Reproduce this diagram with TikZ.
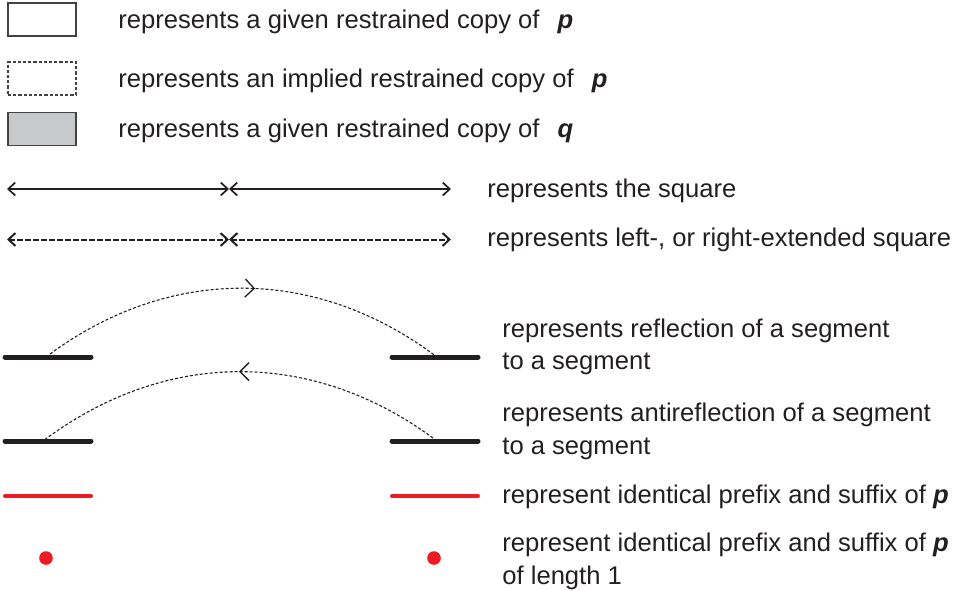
\documentclass[tikz,border=0pt]{standalone}
\usepackage{fontspec}
\setmainfont{Liberation Sans}
\usetikzlibrary{arrows.meta,decorations.markings}
\definecolor{txt}{RGB}{35,31,32}
\definecolor{boxgray}{RGB}{200,201,203}
\definecolor{redline}{RGB}{237,28,36}
\tikzset{
  lbl/.style={anchor=base west,inner sep=0pt,text=txt,font=\fontsize{12.8}{16}\selectfont},
  keybox/.style={draw=txt!85,line width=0.8pt,minimum width=34pt,minimum height=16.5pt,inner sep=0pt},
  givenbox/.style={keybox},
  impliedbox/.style={keybox,dash pattern=on 1.6pt off 1pt},
  qbox/.style={keybox,fill=boxgray},
  sqarrow/.style={line width=0.85pt,draw=txt,{Straight Barb[length=3.5pt,width=6.5pt]}-{Straight Barb[length=3.5pt,width=6.5pt]}},
  sqdashed/.style={sqarrow,line width=1pt,dash pattern=on 2.6pt off 1.4pt},
  seg/.style={line width=2.5pt,line cap=round,draw=txt},
  redseg/.style={line width=2pt,line cap=round,draw=redline},
  reddot/.style={circle,fill=redline,inner sep=0pt,minimum size=6.8pt},
  arcline/.style={line width=0.55pt,draw=txt,dash pattern=on 1.5pt off 1pt,
    postaction={decorate},
    decoration={markings,mark=at position #1 with {\draw[solid,line width=0.65pt,txt] (-4.5pt,-4.5pt) -- (0pt,0pt) -- (-4.5pt,4.5pt);}}}
}
\begin{document}
\begin{tikzpicture}[x=0.5pt,y=-0.5pt]
\useasboundingbox (0,0) rectangle (959,590);

% boxes
\node[givenbox] (b1) at (42,19.5) {};
\node[impliedbox] (b2) at (42,78.5) {};
\node[qbox] (b3) at (42,129) {};
\node[lbl] (t1) at (118,28) {represents a given restrained copy of\hspace{5.5pt} \textbf{\textit{p}}};
\node[lbl] (t2) at (118,87) {represents an implied restrained copy of\hspace{5.5pt} \textbf{\textit{p}}};
\node[lbl] (t3) at (118,137) {represents a given restrained copy of\hspace{5.5pt} \textbf{\textit{q}}};

% square arrows
\coordinate (a1l) at (7,189);
\coordinate (a1m) at (229,189);
\coordinate (a1r) at (451,189);
\draw[sqarrow] (a1l) -- (a1m);
\draw[sqarrow] (a1m) -- (a1r);
\node[lbl] (t4) at (487,197) {represents the square};

\coordinate (a2l) at (7,239.5);
\coordinate (a2m) at (229,239.5);
\coordinate (a2r) at (451,239.5);
\draw[sqdashed] (a2l) -- (a2m);
\draw[sqdashed] (a2m) -- (a2r);
\node[lbl] (t5) at (487,246) {represents left-, or right-extended square};

% reflection
\coordinate (r1a) at (5,357);
\coordinate (r1b) at (91,357);
\coordinate (r1c) at (392,357);
\coordinate (r1d) at (478,357);
\coordinate (r1s) at (46,357);
\coordinate (r1e) at (437,357);
\draw[seg] (r1a) -- (r1b);
\draw[seg] (r1c) -- (r1d);
\draw[arcline=0.53] (r1s) to[bend left=37] (r1e);
\node[lbl] (t6a) at (502,337) {represents reflection of a segment};
\node[lbl] (t6b) at (502,369) {to a segment};

% antireflection
\coordinate (r2a) at (5,441);
\coordinate (r2b) at (91,441);
\coordinate (r2c) at (392,441);
\coordinate (r2d) at (478,441);
\coordinate (r2s) at (43,441);
\coordinate (r2e) at (437,441);
\draw[seg] (r2a) -- (r2b);
\draw[seg] (r2c) -- (r2d);
\draw[arcline=0.5] (r2e) to[bend right=37] (r2s);
\node[lbl] (t7a) at (502,421) {represents antireflection of a segment};
\node[lbl] (t7b) at (502,454) {to a segment};

% red prefix/suffix
\coordinate (p1a) at (5,496);
\coordinate (p1b) at (91,496);
\coordinate (p1c) at (392,496);
\coordinate (p1d) at (478,496);
\draw[redseg] (p1a) -- (p1b);
\draw[redseg] (p1c) -- (p1d);
\node[lbl] (t8) at (502,503) {represent identical prefix and suffix of \textbf{\textit{p}}};

\node[reddot] (d1) at (46,558) {};
\node[reddot] (d2) at (434,558) {};
\node[lbl] (t9a) at (502,551) {represent identical prefix and suffix of \textbf{\textit{p}}};
\node[lbl] (t9b) at (502,584) {of length 1};
\end{tikzpicture}
\end{document}
